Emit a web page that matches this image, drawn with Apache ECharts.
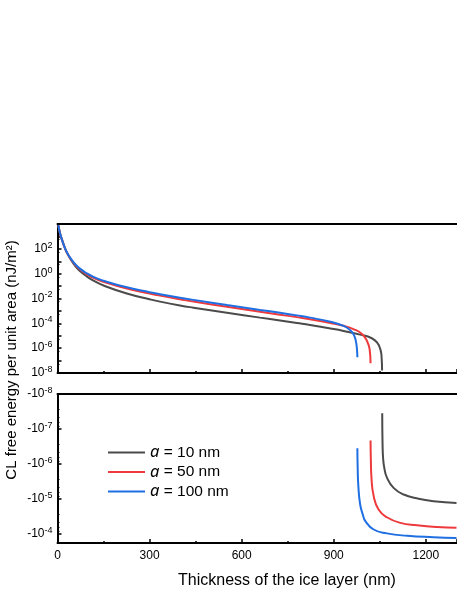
<!DOCTYPE html>
<html>
<head>
<meta charset="utf-8">
<title>CL free energy vs ice thickness</title>
<script src="https://cdn.jsdelivr.net/npm/echarts@6/dist/echarts.min.js"></script>
<style>
  html, body { margin: 0; padding: 0; background: #fff; }
  #chart { width: 457px; height: 591px; }
</style>
</head>
<body>
<div id="chart"></div>
<script>
// 图例名称与颜色
const legendNames = ['a = 10 nm', 'a = 50 nm', 'a = 100 nm'];
const lineColors = ['#4b4b4b', '#ee3a3c', '#1f6fe2'];

// 上图：正的自由能 (nJ/m²)，横坐标为冰层厚度 (nm)
const thickPos10 = [3, 5, 10, 19, 30, 45, 60, 75, 90, 117, 150, 226, 300, 334, 399, 443, 552, 660, 725, 780, 823, 889, 932, 986, 1024, 1041, 1052, 1056, 1057.5];
const energyPos10 = [7.08e3, 4.17e3, 1.32e3, 282, 53.7, 11.5, 3.55, 1.48, 0.741, 0.275, 0.112, 0.0251, 8.71e-3, 5.62e-3, 2.75e-3, 1.82e-3, 7.08e-4, 2.88e-4, 1.7e-4, 1.07e-4, 7.41e-5, 3.89e-5, 2.45e-5, 1.23e-5, 6.31e-6, 2.88e-6, 7.94e-7, 1.78e-7, 1.58e-8];

const thickPos50 = [3, 5, 10, 19, 30, 45, 60, 75, 90, 117, 150, 226, 300, 334, 399, 443, 552, 660, 725, 780, 823, 889, 932, 966, 992, 1008, 1017, 1020];
const energyPos50 = [7.94e3, 3.8e3, 1.15e3, 240, 52.5, 12.9, 4.47, 2.04, 1.1, 0.457, 0.219, 0.0631, 0.0251, 0.017, 8.71e-3, 5.62e-3, 2.14e-3, 8.71e-4, 5.01e-4, 3.16e-4, 2.14e-4, 1.07e-4, 6.31e-5, 3.31e-5, 1.41e-5, 3.98e-6, 7.94e-7, 6.03e-8];

const thickPos100 = [3, 5, 10, 19, 30, 45, 60, 75, 90, 117, 150, 226, 300, 334, 399, 443, 552, 660, 725, 780, 823, 889, 932, 954, 966, 973, 976, 977];
const energyPos100 = [8.32e3, 3.98e3, 1.2e3, 251, 56.2, 14.1, 5.01, 2.34, 1.29, 0.55, 0.269, 0.0794, 0.0324, 0.0224, 0.0117, 7.76e-3, 2.95e-3, 1.2e-3, 7.08e-4, 4.37e-4, 2.88e-4, 1.32e-4, 6.17e-5, 2.82e-5, 1.12e-5, 2.82e-6, 6.31e-7, 1.82e-7];

// 下图：负的自由能 (nJ/m²)
const thickNeg10 = [1058, 1059, 1061, 1065, 1073, 1095, 1128, 1171, 1225, 1300];
const energyNeg10 = [-3.55e-8, -2.51e-7, -7.08e-7, -1.32e-6, -2.4e-6, -4.79e-6, -7.41e-6, -9.55e-6, -1.15e-5, -1.29e-5];

const thickNeg50 = [1020, 1021, 1023, 1030, 1046, 1073, 1117, 1171, 1237, 1300];
const energyNeg50 = [-2.14e-7, -7.94e-7, -2.51e-6, -8.13e-6, -2e-5, -3.31e-5, -4.79e-5, -5.62e-5, -6.31e-5, -6.61e-5];

const thickNeg100 = [977, 978, 980, 986, 995, 1003, 1030, 1073, 1139, 1225, 1300];
const energyNeg100 = [-3.55e-7, -1.26e-6, -3.98e-6, -1.41e-5, -2.82e-5, -4.27e-5, -7.41e-5, -9.55e-5, -1.12e-4, -1.23e-4, -1.29e-4];

// 刻度标签
const xTickValues = [0, 300, 600, 900, 1200];
const topExponents = [2, 0, -2, -4, -6, -8];
const bottomExponents = [-8, -7, -6, -5, -4];

const FONT = '"Liberation Sans", Arial, sans-serif';

// 把 x 与 y 数组拼成 [x, y] 点
function zip(xs, ys, sign) {
  return xs.map((x, i) => [x, sign * ys[i]]);
}

// 对数轴标签：只显示整数次幂，并带上标
function logLabel(exps, prefix) {
  return function (value) {
    const lg = Math.log10(value);
    const e = Math.round(lg);
    if (Math.abs(lg - e) > 1e-6 || exps.indexOf(e) < 0) return '';
    return '{b|' + prefix + '10}{s|' + e + '}';
  };
}

const labelRich = {
  b: { fontSize: 12, fontFamily: FONT, color: '#000', lineHeight: 16 },
  s: { fontSize: 9, fontFamily: FONT, color: '#000', verticalAlign: 'top', lineHeight: 8 }
};

const axisLine = { show: true, onZero: false, lineStyle: { color: '#000', width: 2 } };

function bottomXAxis(gridIndex, showLabel) {
  return {
    type: 'value', gridIndex: gridIndex, min: 0, max: 1300, interval: 300,
    axisLine: axisLine,
    axisTick: { show: true, inside: true, length: 4, lineStyle: { color: '#000', width: 1.5 } },
    minorTick: { show: true, splitNumber: 2, length: 2, lineStyle: { color: '#000', width: 1.5 } },
    splitLine: { show: false },
    axisLabel: {
      show: showLabel, margin: 7, color: '#000', fontSize: 12, fontFamily: FONT,
      showMaxLabel: false,
      formatter: v => (xTickValues.indexOf(v) >= 0 ? String(v) : '')
    }
  };
}

function topBorder(gridIndex) {
  return {
    type: 'value', gridIndex: gridIndex, position: 'top', min: 0, max: 1300,
    axisLine: axisLine, axisTick: { show: false }, axisLabel: { show: false }, splitLine: { show: false }
  };
}

function makeSeries(idx, xs, ys, sign, axisIdx) {
  return {
    name: legendNames[idx], type: 'line',
    xAxisIndex: axisIdx, yAxisIndex: axisIdx,
    data: zip(xs, ys, sign),
    symbol: 'none', smooth: 0.5,
    lineStyle: { color: lineColors[idx], width: 2 },
    itemStyle: { color: lineColors[idx] },
    z: 3 + idx
  };
}

const chart = echarts.init(document.getElementById('chart'), null, { renderer: 'canvas' });

const option = {
  animation: false,
  backgroundColor: '#fff',
  grid: [
    { left: 57.5, top: 224, width: 399, height: 149 },
    { left: 57.5, top: 394, width: 399, height: 149 }
  ],
  xAxis: [bottomXAxis(0, false), bottomXAxis(1, true), topBorder(0), topBorder(1)],
  yAxis: [
    {
      type: 'log', gridIndex: 0, min: 1e-8, max: 1e4, logBase: 10, interval: 1,
      axisLine: axisLine,
      axisTick: { show: true, inside: true, length: 4, lineStyle: { color: '#000', width: 1.5 } },
      minorTick: { show: true, splitNumber: 2, length: 2, lineStyle: { color: '#000', width: 1 } },
      splitLine: { show: false },
      axisLabel: { margin: 5, formatter: logLabel(topExponents, ''), rich: labelRich, showMaxLabel: false }
    },
    {
      type: 'log', gridIndex: 1, min: 1e-8, max: 1.8e-4, logBase: 10, interval: 1, inverse: true,
      axisLine: axisLine,
      axisTick: { show: true, inside: true, length: 4, lineStyle: { color: '#000', width: 1.5 } },
      minorTick: { show: true, splitNumber: 5, length: 2, lineStyle: { color: '#000', width: 1 } },
      splitLine: { show: false },
      axisLabel: { margin: 5, formatter: logLabel(bottomExponents, '-'), rich: labelRich }
    }
  ],
  legend: {
    data: legendNames,
    orient: 'vertical', left: 108, top: 442.75, padding: 0,
    icon: 'rect', itemWidth: 37, itemHeight: 2, itemGap: 0,
    formatter: name => '{i|a}' + name.slice(1),
    textStyle: {
      fontSize: 15.5, fontFamily: FONT, color: '#000', lineHeight: 19.5,
      rich: { i: { fontSize: 16.5, fontFamily: '"Noto Sans"', fontStyle: 'italic', color: '#000', lineHeight: 19.5 } }
    }
  },
  graphic: [
    {
      // 纵轴标题（两幅图共用）
      type: 'text', rotation: Math.PI / 2,
      x: 12, y: 360,
      style: {
        text: 'CL free energy per unit area (nJ/m²)',
        font: '15px ' + FONT, fill: '#000',
        textAlign: 'center', textVerticalAlign: 'middle'
      }
    },
    {
      // 横轴标题
      type: 'text',
      x: 287, y: 581,
      style: {
        text: 'Thickness of the ice layer (nm)',
        font: '16px ' + FONT, fill: '#000',
        textAlign: 'center', textVerticalAlign: 'middle'
      }
    }
  ],
  series: [
    makeSeries(0, thickPos10, energyPos10, 1, 0),
    makeSeries(1, thickPos50, energyPos50, 1, 0),
    makeSeries(2, thickPos100, energyPos100, 1, 0),
    makeSeries(0, thickNeg10, energyNeg10, -1, 1),
    makeSeries(1, thickNeg50, energyNeg50, -1, 1),
    makeSeries(2, thickNeg100, energyNeg100, -1, 1)
  ]
};

chart.setOption(option);
</script>
</body>
</html>
